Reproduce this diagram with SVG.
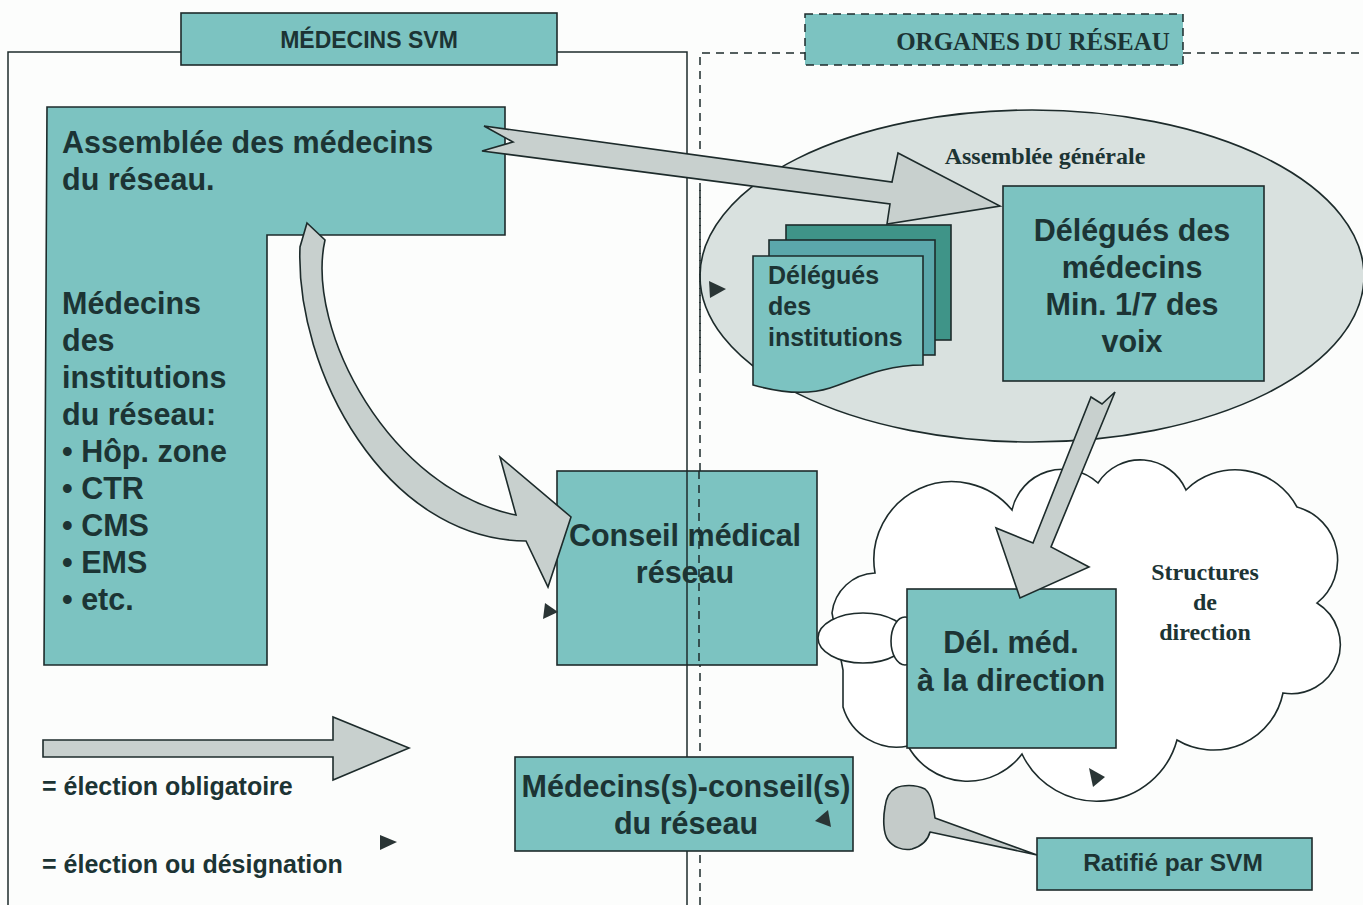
<svg xmlns="http://www.w3.org/2000/svg" width="1363" height="905" viewBox="0 0 1363 905">
<style>
.teal{fill:#7cc3c1;stroke:#1d2b2b;stroke-width:1.6}
.arrow{fill:#c8d0ce;stroke:#1d2b2b;stroke-width:1.6;stroke-linejoin:miter}
.line{fill:none;stroke:#1d2b2b;stroke-width:1.5}
.dash{fill:none;stroke:#1d2b2b;stroke-width:1.5;stroke-dasharray:8 6}
.tri{fill:#2a3535}
.t{font-family:"Liberation Sans",Arial,sans-serif;font-weight:bold;fill:#1c3434}
.s{font-family:"Liberation Serif","Times New Roman",serif;font-weight:bold;fill:#1c3434}
.big{font-size:30.5px}
.mid{font-size:25px}
.c{text-anchor:middle}
</style>
<rect width="1363" height="905" fill="#fcfdfc"/>

<g id="frame-medecins">
<path class="line" d="M8,905 V52 H181 M557,52 H687 V757 M687,851 V905"/>
<rect class="teal" x="181" y="13" width="376" height="52"/>
<text class="t c" x="369" y="48" font-size="23">MÉDECINS SVM</text>
</g>

<g id="frame-organes">
<path class="dash" d="M700,905 V53 H805 M1183,53 H1363"/>
<rect x="805" y="14" width="378" height="51" fill="#7cc3c1" stroke="#1d2b2b" stroke-width="1.5" stroke-dasharray="8 6"/>
<text class="s c" x="1033" y="50" font-size="25">ORGANES DU RÉSEAU</text>
</g>

<g id="assemblee-generale">
<ellipse cx="1032" cy="276" rx="332" ry="166" fill="#d9e1df" stroke="#1d2b2b" stroke-width="1.6"/>
<path class="dash" d="M700,190 V370"/>
<text class="s c" x="1045" y="164" font-size="24">Assemblée générale</text>
</g>

<g id="delegues-institutions">
<rect x="786" y="225" width="165" height="115" fill="#3f9488" stroke="#1d2b2b" stroke-width="1.6"/>
<rect x="769" y="240" width="166" height="115" fill="#5ba7ab" stroke="#1d2b2b" stroke-width="1.6"/>
<path class="teal" d="M753,256 H923 V365 C885,365 860,378 830,388 C805,396 778,392 753,385 Z"/>
<text class="t mid" x="768" y="284">Délégués</text>
<text class="t mid" x="768" y="315">des</text>
<text class="t mid" x="768" y="346">institutions</text>
</g>

<g id="delegues-medecins">
<rect class="teal" x="1003" y="186" width="261" height="195"/>
<text class="t big c" x="1132" y="241">Délégués des</text>
<text class="t big c" x="1132" y="278">médecins</text>
<text class="t big c" x="1132" y="315">Min. 1/7 des</text>
<text class="t big c" x="1132" y="352">voix</text>
</g>

<g id="structures-direction">
<path d="M843,707 L843,670 L832,613 A45 45 0 0 1 875,573 A78 78 0 0 1 1012,510 A52 52 0 0 1 1098,483 A50 50 0 0 1 1186,490 A70 70 0 0 1 1297,507 A55 55 0 0 1 1317,603 A49 49 0 0 1 1283,693 A71 71 0 0 1 1177,740 A83 83 0 0 1 1022,754 A68 68 0 0 1 908,746 A56 56 0 0 1 843,707 Z" fill="#ffffff" stroke="#1d2b2b" stroke-width="1.6"/>
<ellipse cx="863" cy="638" rx="45" ry="25" fill="#ffffff" stroke="#1d2b2b" stroke-width="1.6"/>
<ellipse cx="905" cy="641" rx="14" ry="24" fill="#ffffff" stroke="#1d2b2b" stroke-width="1.6"/>
<text class="s c" x="1205" y="580" font-size="24">Structures</text>
<text class="s c" x="1205" y="610" font-size="24">de</text>
<text class="s c" x="1205" y="640" font-size="24">direction</text>
</g>

<g id="del-med-direction">
<rect class="teal" x="907" y="589" width="209" height="159"/>
<text class="t big c" x="1011" y="653">Dél. méd.</text>
<text class="t big c" x="1011" y="691">à la direction</text>
</g>

<g id="assemblee-medecins">
<path class="teal" d="M47,107 H505 V235 H267 V665 H44 Z"/>
<text class="t big" x="62" y="153">Assemblée des médecins</text>
<text class="t big" x="62" y="190">du réseau.</text>
<text class="t big" x="62" y="314">Médecins</text>
<text class="t big" x="62" y="351">des</text>
<text class="t big" x="62" y="388">institutions</text>
<text class="t big" x="62" y="425">du réseau:</text>
<text class="t big" x="62" y="462">• Hôp. zone</text>
<text class="t big" x="62" y="499">• CTR</text>
<text class="t big" x="62" y="536">• CMS</text>
<text class="t big" x="62" y="573">• EMS</text>
<text class="t big" x="62" y="610">• etc.</text>
</g>

<g id="conseil-medical">
<rect class="teal" x="557" y="471" width="260" height="194"/>
<path class="line" d="M687,471 V665"/>
<path class="dash" d="M699,471 V665"/>
<text class="t big c" x="685" y="546">Conseil médical</text>
<text class="t big c" x="685" y="583">réseau</text>
</g>

<g id="medecins-conseil">
<rect class="teal" x="515" y="757" width="338" height="94"/>
<text class="t big c" x="686" y="797">Médecins(s)-conseil(s)</text>
<text class="t big c" x="686" y="834">du réseau</text>
</g>

<g id="ratifie">
<path d="M885,807 C886,798 890,791 896,788 C902,785 915,784 925,789 C931,794 933,804 935,818 L1037,855 L930,832 C928,840 922,846 912,849 C903,851 893,847 888,840 C883,833 883,818 885,807 Z" fill="#c4cbc9" stroke="#1d2b2b" stroke-width="1.6" stroke-linejoin="round"/>
<rect class="teal" x="1037" y="838" width="275" height="52"/>
<text class="t c" x="1173" y="871" font-size="24.5">Ratifié par SVM</text>
</g>

<g id="legend">
<path class="arrow" d="M43,740 H333 V717 L409,748 L333,780 V757 H43 Z"/>
<text class="t mid" x="42" y="795">= élection obligatoire</text>
<polygon class="tri" points="380,835 397,842 380,850"/>
<text class="t mid" x="42" y="873">= élection ou désignation</text>
</g>

<g id="connectors">
<path class="arrow" d="M484,126 L513,142 L482,151 L890,204 L887,224 L1000,206 L898,153 L892,182 Z"/>
<path class="arrow" d="M307,223 L325,240 C305,330 390,490 516,515 L500,457 L571,517 L548,587 L526,541 C385,540 295,370 300,247 Z"/>
<path class="arrow" d="M1091,397 L1102,404 L1115,392 L1051,547 L1089,567 L1020,598 L996,528 L1033,543 Z"/>
<polygon class="tri" points="709,281 726,289 710,298"/>
<polygon class="tri" points="545,603 558,612 543,619"/>
<polygon class="tri" points="828,810 815,821 831,827"/>
<polygon class="tri" points="1089,768 1105,777 1093,787"/>
</g>
</svg>
